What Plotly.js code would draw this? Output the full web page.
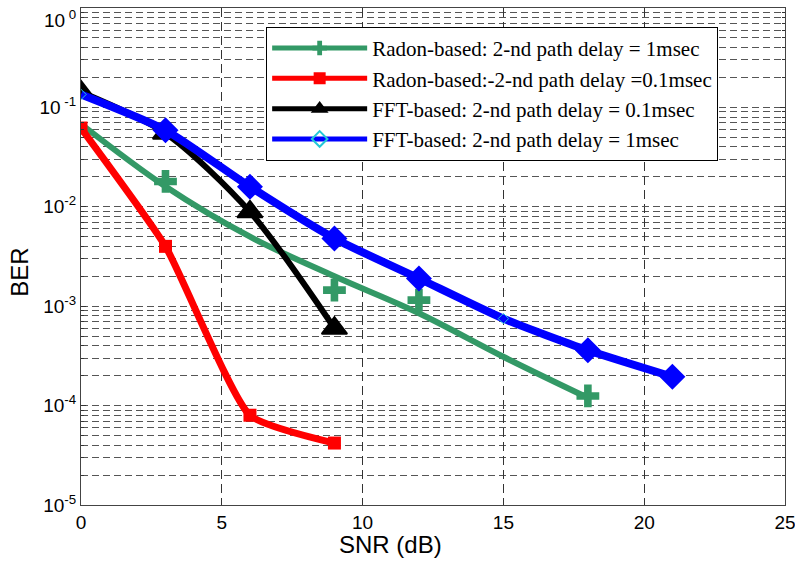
<!DOCTYPE html>
<html>
<head>
<meta charset="utf-8">
<script src="https://cdn.plot.ly/plotly-3.0.1.min.js"></script>
<style>html,body{margin:0;padding:0;background:#fff;}#chart{width:795px;height:561px;}</style>
</head>
<body>
<div id="chart"></div>
<script>
// ---- data ----
const seriesNames = [
  'Radon-based: 2-nd path delay = 1msec',
  'Radon-based:-2-nd path delay =0.1msec',
  'FFT-based: 2-nd path delay = 0.1msec',
  'FFT-based: 2-nd path delay = 1msec'
];
// Radon-based, 1 msec (smooth curve + separately plotted crosses)
const greenLineX = [0, 3, 6, 9, 12, 15, 18];
const greenLineY = [0.068, 0.016, 5.0e-3, 2.0e-3, 8.5e-4, 3.1e-4, 1.2e-4];
const greenMarkX = [3, 9, 12, 18];
const greenMarkY = [0.018, 1.45e-3, 1.15e-3, 1.25e-4];
// Radon-based, 0.1 msec
const redX = [0, 3, 6, 9];
const redY = [0.062, 4.0e-3, 8.0e-5, 4.2e-5];
// FFT-based, 0.1 msec
const blackX = [0, 3, 6, 9];
const blackY = [0.143, 0.055, 8.9e-3, 6.0e-4];
// FFT-based, 1 msec
const blueX = [0, 3, 6, 9, 12, 15, 18, 21];
const blueY = [0.135, 0.059, 0.0159, 4.8e-3, 1.9e-3, 7.5e-4, 3.6e-4, 1.95e-4];
const blueMarkX = [3, 6, 9, 12, 18, 21];
const blueMarkY = [0.059, 0.0159, 4.8e-3, 1.9e-3, 3.6e-4, 1.95e-4];
// axis ticks
const xTicks = [0, 5, 10, 15, 20, 25];
const yTickVals = [1e-5, 1e-4, 1e-3, 1e-2, 1e-1, 1];
const yTickText = ['10<sup>-5</sup>', '10<sup>-4</sup>', '10<sup>-3</sup>', '10<sup>-2</sup>', '10<sup> -1</sup>', '<br>10<sup> 0</sup>'];

const GREEN = '#339966', RED = '#ff0000', BLACK = '#000000', BLUE = '#0000ff', CYAN = '#22c8d8';

const traces = [
  { x: greenLineX, y: greenLineY, name: seriesNames[0], mode: 'lines+markers',
    line: { color: GREEN, width: 6, shape: 'spline', smoothing: 1 },
    marker: { symbol: 'cross', size: 3, color: GREEN }, legendrank: 1 },
  { x: greenMarkX, y: greenMarkY, mode: 'markers', showlegend: false, hoverinfo: 'skip',
    marker: { symbol: 'cross', size: 19, color: GREEN } },
  { x: redX, y: redY, name: seriesNames[1], mode: 'lines+markers',
    line: { color: RED, width: 7, shape: 'spline', smoothing: 0.5 },
    marker: { symbol: 'square', size: 13, color: RED }, legendrank: 2 },
  { x: blackX, y: blackY, name: seriesNames[2], mode: 'lines+markers',
    line: { color: BLACK, width: 6, shape: 'spline', smoothing: 0.8 },
    marker: { symbol: 'triangle-up', size: 22, color: BLACK, line: { color: BLACK, width: 2 } }, legendrank: 3 },
  { x: blueX, y: blueY, name: seriesNames[3], mode: 'lines+markers',
    line: { color: BLUE, width: 8, shape: 'spline', smoothing: 0.6 },
    marker: { symbol: 'diamond-open', size: 8, color: CYAN, line: { color: CYAN, width: 1 } }, legendrank: 4 },
  { x: blueMarkX, y: blueMarkY, mode: 'markers', showlegend: false, hoverinfo: 'skip',
    marker: { symbol: 'diamond', size: 20, color: BLUE } }
];

const axisFont = { family: 'Liberation Sans, Arial, sans-serif', size: 19, color: '#000' };

const layout = {
  width: 795, height: 561,
  margin: { l: 81, r: 10, t: 8, b: 56 },
  paper_bgcolor: '#ffffff', plot_bgcolor: '#ffffff',
  showlegend: true,
  legend: {
    x: 0.263, y: 0.962, xanchor: 'left', yanchor: 'top',
    bgcolor: '#ffffff', bordercolor: '#000000', borderwidth: 1,
    font: { family: 'Liberation Serif, Times New Roman, serif', size: 21, color: '#000' },
    itemsizing: 'constant', itemwidth: 95, tracegroupgap: 0
  },
  xaxis: {
    range: [0, 25], tickmode: 'array', tickvals: xTicks,
    showgrid: true, gridcolor: '#333', gridwidth: 1, griddash: '9px,5px',
    zeroline: false, showline: true, linecolor: '#444', linewidth: 1, mirror: 'ticks',
    ticks: 'inside', ticklen: 5, tickcolor: '#333', tickfont: axisFont,
    ticklabeloverflow: 'allow'
  },
  yaxis: {
    type: 'log', range: [-5, 0], tickmode: 'array', tickvals: yTickVals, ticktext: yTickText,
    showgrid: true, gridcolor: '#555', gridwidth: 1, griddash: '7px,4px',
    zeroline: false, showline: true, linecolor: '#444', linewidth: 1, mirror: 'ticks',
    ticks: 'inside', ticklen: 5, tickcolor: '#333', tickfont: axisFont,
    ticklabeloverflow: 'allow',
    minor: { dtick: 'D1', showgrid: true, gridcolor: '#555', gridwidth: 1, griddash: '7px,4px',
             ticks: 'inside', ticklen: 3, tickcolor: '#333' }
  },
  annotations: [
    { text: 'SNR (dB)', xref: 'paper', yref: 'paper', x: 0.439, y: -0.08,
      xanchor: 'center', yanchor: 'middle', showarrow: false,
      font: { family: 'Liberation Sans, Arial, sans-serif', size: 24, color: '#000' } },
    { text: 'BER', xref: 'paper', yref: 'paper', x: -0.087, y: 0.469, textangle: -90,
      xanchor: 'center', yanchor: 'middle', showarrow: false,
      font: { family: 'Liberation Sans, Arial, sans-serif', size: 24, color: '#000' } }
  ]
};

Plotly.newPlot('chart', traces, layout, { displayModeBar: false, staticPlot: true });
</script>
</body>
</html>
